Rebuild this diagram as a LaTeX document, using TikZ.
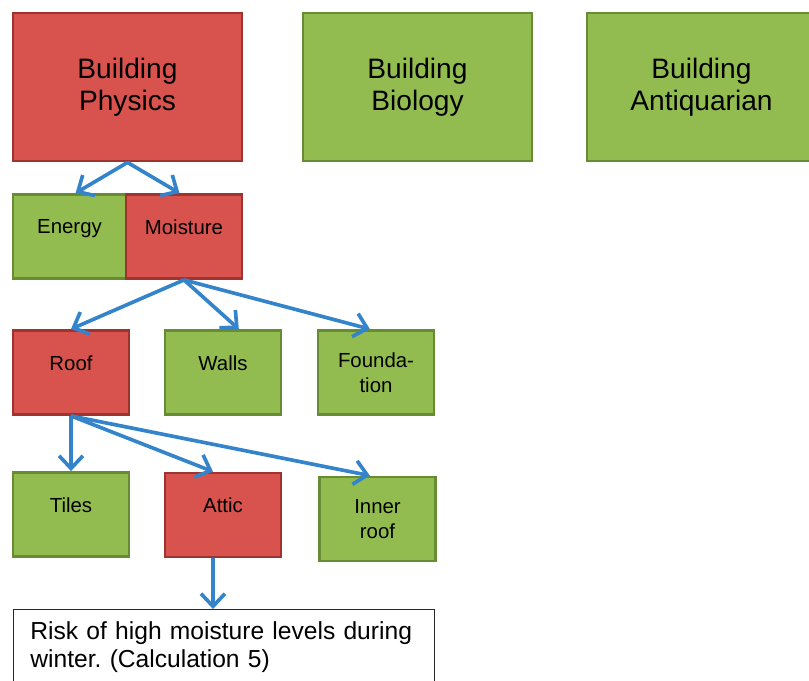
\documentclass[tikz,border=0pt]{standalone}
\usepackage{fontspec}
\setmainfont{Liberation Sans}
\usepackage{xcolor}
\usetikzlibrary{arrows.meta,positioning}
\definecolor{redfill}{RGB}{217,83,78}
\definecolor{redline}{RGB}{158,52,48}
\definecolor{greenfill}{RGB}{146,188,80}
\definecolor{greenline}{RGB}{104,140,52}
\definecolor{arrowblue}{RGB}{52,132,204}
\tikzset{
  redbox/.style={draw=redline,fill=redfill,line width=2pt,inner sep=0pt,align=center},
  greenbox/.style={draw=greenline,fill=greenfill,line width=2pt,inner sep=0pt,align=center},
  topic/.style={minimum width=5.72cm,minimum height=3.7cm,font=\fontsize{20}{22.8}\selectfont},
  part/.style={minimum width=2.9cm,minimum height=2.1cm,font=\fontsize{14.5}{17.8}\selectfont},
  oneline/.style={text depth=0.48cm},
  link/.style={draw=arrowblue,line width=2.6pt,-{Straight Barb[length=9pt,width=17pt]}}
}
\begin{document}
\begin{tikzpicture}[x=0.025cm,y=-0.025cm]
\useasboundingbox (0,0) rectangle (809,680);
% Top level
\node[redbox,topic] (physics) at (127.5,87) {Building\\Physics};
\node[greenbox,topic] (biology) at (417.5,87) {Building\\Biology};
\node[greenbox,topic] (antiq) at (701.5,87) {Building\\Antiquarian};

% Energy / moisture
\node[greenbox,part,oneline,minimum width=2.825cm] (energy) at (69.5,236.5) {Energy};
\node[redbox,part,oneline] (moisture) at (184,236.5) {Moisture};

% Building parts
\node[redbox,part,oneline] (roof) at (71,372.5) {Roof};
\node[greenbox,part,oneline] (walls) at (223,372.5) {Walls};
\node[greenbox,part] (foundation) at (376,372.5) {Founda-\\tion};

% Roof parts
\node[greenbox,part,oneline] (tiles) at (71,514.5) {Tiles};
\node[redbox,part,oneline] (attic) at (223,515) {Attic};
\node[greenbox,part] (innerroof) at (377.5,519) {Inner\\roof};

% Result
\node[draw=black!85,line width=0.9pt,anchor=north west,align=left,text width=9.68cm,inner xsep=0.42cm,inner ysep=0.3cm,font=\fontsize{17.5}{20}\selectfont] (risk) at (13,609) {Risk of high moisture levels during\\winter.\ (Calculation 5)};

% Connectors
\draw[link] (physics.south) -- (energy.82);
\draw[link] (physics.south) -- (moisture.96);
\draw[link] (moisture.south) -- (roof.north);
\draw[link] (moisture.south) -- (walls.70);
\draw[link] (moisture.south) -- (foundation.98);
\draw[link] (roof.south) -- (tiles.north);
\draw[link] (roof.south) -- (attic.103);
\draw[link] (roof.south) -- (innerroof.100);
\draw[link] (attic.257) -- (attic.257 |- risk.north);
\end{tikzpicture}
\end{document}
